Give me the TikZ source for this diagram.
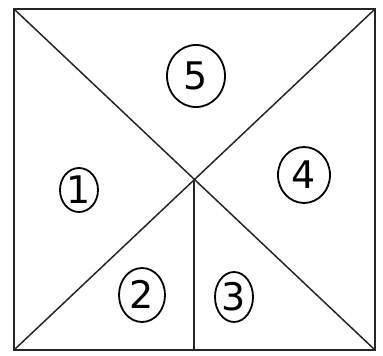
\documentclass[tikz,border=0pt]{standalone}
\usepackage{fontspec}
\setmainfont{DejaVu Sans}
\usetikzlibrary{shapes.geometric}
\begin{document}
\begin{tikzpicture}[x=1pt,y=-1pt,
  edge/.style={line width=1.5pt, draw=black!85},
  frame/.style={line width=2.4pt, draw=black!85},
  num/.style={ellipse, draw=black, line width=1.8pt, inner sep=0pt,
    font=\fontsize{38}{40}\selectfont, text height=27pt, text depth=0pt, text=black}]
\useasboundingbox (0,0) rectangle (383,356);
\coordinate (tl) at (14,9);
\coordinate (tr) at (375,9);
\coordinate (bl) at (14,350);
\coordinate (br) at (375,350);
\coordinate (c) at (194,181);
\coordinate (bm) at (194,350);
\draw[edge] (tl) -- (br);
\draw[edge] (tr) -- (bl);
\draw[edge] (c) -- (bm);
\draw[frame] (tl) rectangle (br);
\node[num, minimum width=58pt, minimum height=62pt] (n5) at (196,76) {5};
\node[num, minimum width=38pt, minimum height=44pt] (n1) at (79,190) {1};
\node[num, minimum width=52pt, minimum height=56pt] (n4) at (304,175) {4};
\node[num, minimum width=46pt, minimum height=54pt] (n2) at (142,295) {2};
\node[num, minimum width=38pt, minimum height=50pt] (n3) at (234,297) {3};
\end{tikzpicture}
\end{document}
